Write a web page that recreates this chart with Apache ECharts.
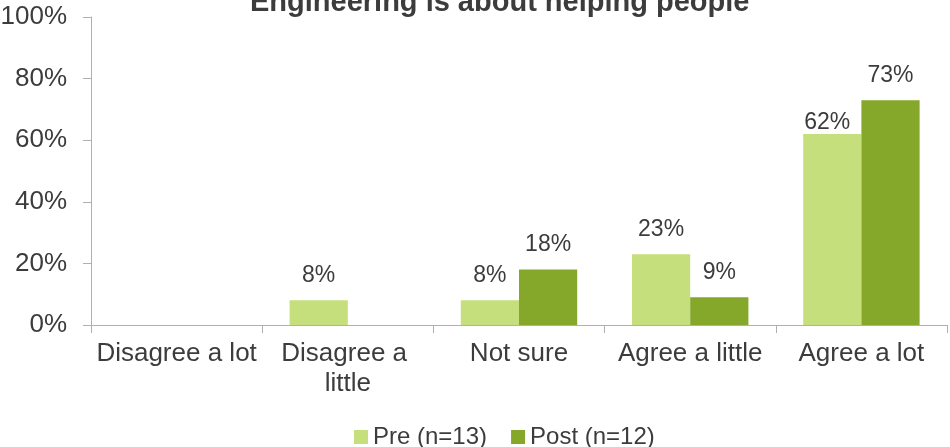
<!DOCTYPE html>
<html>
<head>
<meta charset="utf-8">
<script src="https://cdn.jsdelivr.net/npm/echarts@6/dist/echarts.min.js"></script>
<style>
  html, body { margin: 0; padding: 0; background: #fff; }
  #chart { width: 950px; height: 447px; }
</style>
</head>
<body>
<div id="chart"></div>
<script>
// Survey responses, share of respondents per answer
const chartTitle = 'Engineering is about helping people';
const categories = ['Disagree a lot', 'Disagree a little', 'Not sure', 'Agree a little', 'Agree a lot'];
const preName = 'Pre (n=13)';
const postName = 'Post (n=12)';
const preValues = [0, 8, 8, 23, 62];
const postValues = [0, 0, 18, 9, 73];
const yTicks = [0, 20, 40, 60, 80, 100];

const FONT = '"Liberation Sans", Arial, sans-serif';
const TEXT = '#3c3c3c';
const AXIS = '#b0b0b0';

const chart = echarts.init(document.getElementById('chart'), null, { renderer: 'canvas' });

const valueLabel = {
  show: true,
  position: 'top',
  distance: 13,
  fontFamily: FONT,
  fontSize: 23,
  color: TEXT,
  formatter: p => (p.value ? p.value + '%' : '')
};

// The last Pre label sits low and slightly left so it clears its taller neighbour's label
const lastIdx = categories.length - 1;
const preData = preValues.map((v, i) =>
  i === lastIdx ? { value: v, label: { distance: 0, offset: [-5, 0] } } : v
);

chart.setOption({
  animation: false,
  backgroundColor: '#ffffff',
  title: {
    text: chartTitle,
    left: 245,
    top: -19,
    textStyle: { fontFamily: FONT, fontSize: 29, fontWeight: 'bold', color: TEXT, lineHeight: 34 }
  },
  legend: {
    left: 349,
    top: 418,
    itemWidth: 14,
    itemHeight: 14,
    itemGap: 24,
    icon: 'rect',
    textStyle: { fontFamily: FONT, fontSize: 24, color: TEXT, lineHeight: 28 },
    data: [preName, postName]
  },
  grid: { left: 91, right: 3, top: 17, bottom: 122, containLabel: false, outerBoundsMode: 'none' },
  xAxis: {
    type: 'category',
    data: categories,
    axisLine: { lineStyle: { color: AXIS, width: 1 } },
    axisTick: { show: true, length: 8, lineStyle: { color: AXIS } },
    axisLabel: {
      interval: 0,
      margin: 14,
      fontFamily: FONT,
      fontSize: 26,
      lineHeight: 30,
      color: TEXT,
      width: 168,
      overflow: 'break'
    }
  },
  yAxis: {
    type: 'value',
    min: yTicks[0],
    max: yTicks[yTicks.length - 1],
    interval: yTicks[1] - yTicks[0],
    splitLine: { show: false },
    axisLine: { show: true, lineStyle: { color: AXIS, width: 1 } },
    axisTick: { show: true, length: 8, lineStyle: { color: AXIS } },
    axisLabel: {
      margin: 24,
      fontFamily: FONT,
      fontSize: 26,
      color: TEXT,
      formatter: v => v + '%'
    }
  },
  series: [
    {
      name: preName,
      type: 'bar',
      data: preData,
      itemStyle: { color: '#c4df7b' },
      barGap: '0%',
      barCategoryGap: '32%',
      label: valueLabel
    },
    {
      name: postName,
      type: 'bar',
      data: postValues,
      itemStyle: { color: '#85a72a' },
      barGap: '0%',
      barCategoryGap: '32%',
      label: valueLabel
    }
  ]
});
</script>
</body>
</html>
